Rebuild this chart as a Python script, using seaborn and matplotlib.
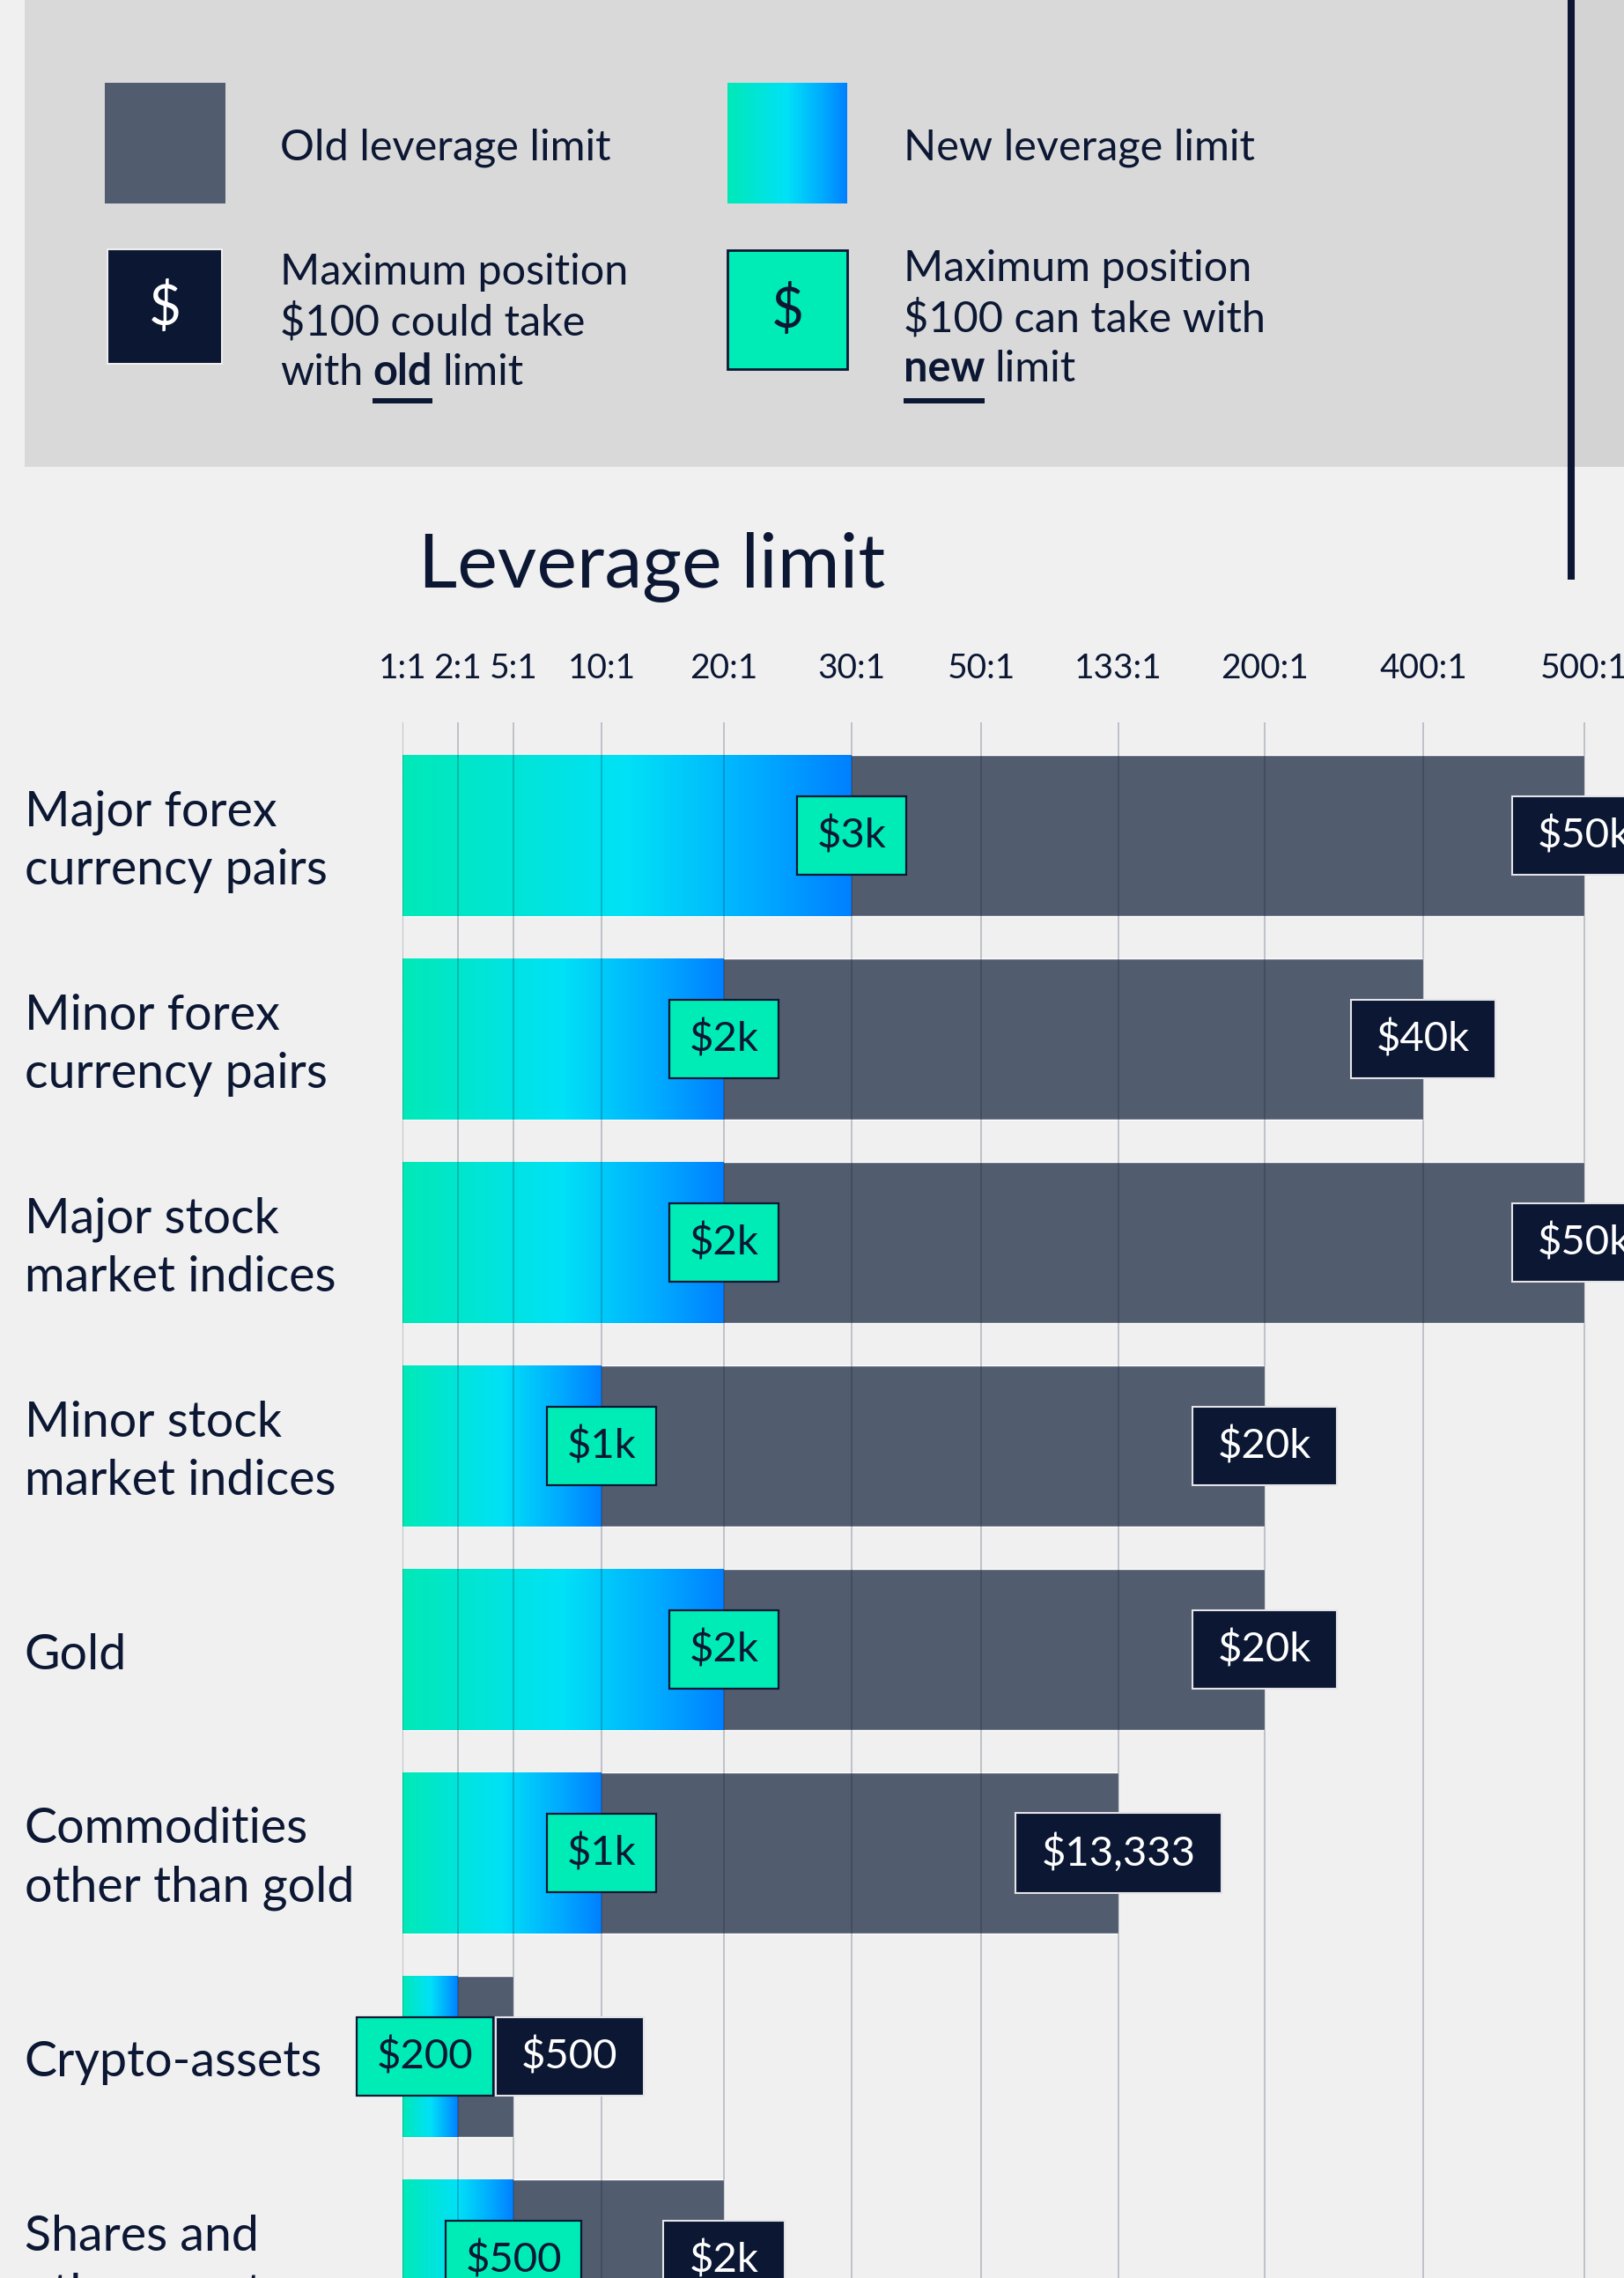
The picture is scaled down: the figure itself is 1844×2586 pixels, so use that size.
import numpy as np
import pandas as pd
import matplotlib
matplotlib.use("Agg")
import matplotlib.pyplot as plt
import matplotlib.transforms as mtransforms
import seaborn as sns
from matplotlib.colors import LinearSegmentedColormap
from matplotlib.patches import Rectangle
from matplotlib.path import Path

# ---------------- data ----------------
categories = ["Major forex\ncurrency pairs", "Minor forex\ncurrency pairs",
              "Major stock\nmarket indices", "Minor stock\nmarket indices",
              "Gold", "Commodities\nother than gold", "Crypto-assets",
              "Shares and\nother assets"]
old_limit = [500, 400, 500, 200, 200, 133, 5, 20]
new_limit = [30, 20, 20, 10, 20, 10, 2, 5]
old_position = ["$50k", "$40k", "$50k", "$20k", "$20k", "$13,333", "$500", "$2k"]
new_position = ["$3k", "$2k", "$2k", "$1k", "$2k", "$1k", "$200", "$500"]
tick_values = [1, 2, 5, 10, 20, 30, 50, 133, 200, 400, 500]
tick_labels = ["1:1", "2:1", "5:1", "10:1", "20:1", "30:1", "50:1", "133:1",
               "200:1", "400:1", "500:1"]

# ---------------- style / layout ----------------
NAVY = "#0b1733"
SLATE = "#525c6f"
TEAL = "#00ecb7"
BG = "#f0f0f0"
PANEL = "#d9d9d9"
grad_cmap = LinearSegmentedColormap.from_list(
    "lev", [(0, "#00e9b7"), (0.5, "#00e1f7"), (0.8, "#00aaff"), (1, "#0080ff")])

# uneven spacing of the leverage axis (pixels from the 1:1 line)
tick_px = [0, 63, 126, 226, 365, 510, 657, 813, 979, 1159, 1342]
ext_vals = np.array(tick_values + [5000], dtype=float)
ext_pos = np.array(tick_px + [1342 + 4500], dtype=float)

def fwd(v):
    return np.interp(v, ext_vals, ext_pos)

def inv(p):
    return np.interp(p, ext_pos, ext_vals)

def wide_box(x0, y0, width, height, mutation_size):
    px = 0.62 * mutation_size
    py = 0.48 * mutation_size
    x1, y1 = x0 + width, y0 + height
    return Path([(x0 - px, y0 - py), (x1 + px, y0 - py), (x1 + px, y1 + py),
                 (x0 - px, y1 + py), (x0 - px, y0 - py)], closed=True)

sns.set_style("white")
plt.rcParams["font.family"] = ["Lato", "DejaVu Sans"]

W, H = 1844, 2586
fig = plt.figure(figsize=(W / 100, H / 100), dpi=100)
fig.patch.set_facecolor(BG)

# background / legend layer in pixel coordinates
bg = fig.add_axes([0, 0, 1, 1], zorder=0)
bg.set_xlim(0, W)
bg.set_ylim(H, 0)
bg.axis("off")

bg.add_patch(Rectangle((28, 0), W - 28, 530, fc=PANEL, ec="none"))
bg.add_patch(Rectangle((1788, 0), W - 1788, 530, fc="#d3d3d3", ec="none"))
bg.plot([1784, 1784], [0, 658], color=NAVY, lw=5.8, solid_capstyle="butt")

# legend swatches
bg.add_patch(Rectangle((119, 94), 137, 137, fc=SLATE, ec="none"))
grad = np.linspace(0, 1, 256)[None, :]
bg.imshow(grad, cmap=grad_cmap, extent=(826, 962, 231, 94), aspect="auto",
          interpolation="bilinear", zorder=2)
LFS = 35
bg.text(318, 182, "Old leverage limit", fontsize=LFS, color=NAVY, va="baseline")
bg.text(1026, 182, "New leverage limit", fontsize=LFS, color=NAVY, va="baseline")

bg.add_patch(Rectangle((122, 283), 130, 130, fc=NAVY, ec="#eeeeee", lw=1.5, zorder=2))
bg.text(187, 350, "$", fontsize=46, color="white", ha="center", va="center", zorder=3)
bg.add_patch(Rectangle((826, 284), 136, 135, fc=TEAL, ec=NAVY, lw=2, zorder=2))
bg.text(894, 353, "$", fontsize=46, color=NAVY, ha="center", va="center", zorder=3)

bg.text(318, 323, "Maximum position", fontsize=LFS, color=NAVY, va="baseline")
bg.text(318, 381, "$100 could take", fontsize=LFS, color=NAVY, va="baseline")
t_with = bg.text(318, 437, "with", fontsize=LFS, color=NAVY, va="baseline")
t_old = bg.annotate("old", xy=(1, 0), xycoords=t_with, xytext=(8, 0),
                    textcoords="offset points", fontsize=LFS, fontweight="bold",
                    color=NAVY, ha="left", va="bottom")
bg.annotate("limit", xy=(1, 0), xycoords=t_old, xytext=(8, 0),
            textcoords="offset points", fontsize=LFS, color=NAVY,
            ha="left", va="bottom")

bg.text(1026, 319, "Maximum position", fontsize=LFS, color=NAVY, va="baseline")
bg.text(1026, 377, "$100 can take with", fontsize=LFS, color=NAVY, va="baseline")
t_new = bg.text(1026, 433, "new", fontsize=LFS, color=NAVY, va="baseline",
                fontweight="bold")
bg.annotate("limit", xy=(1, 0), xycoords=t_new, xytext=(8, 0),
            textcoords="offset points", fontsize=LFS, color=NAVY,
            ha="left", va="bottom")

# chart title
bg.text(475, 666, "Leverage limit", fontsize=62, color=NAVY, va="baseline")

# ---------------- chart ----------------
ax = fig.add_axes([457 / W, 0, (W - 457) / W, (H - 820) / H], zorder=1)
ax.patch.set_alpha(0)
ax.set_xscale("function", functions=(fwd, inv))

df = pd.DataFrame({"category": categories, "old": old_limit, "new": new_limit})
sns.barplot(data=df, x="old", y="category", color=SLATE, saturation=1,
            width=0.79, errorbar=None, orient="h", ax=ax)
n_old = len(ax.patches)
sns.barplot(data=df, x="new", y="category", color=TEAL, saturation=1,
            width=0.79, errorbar=None, orient="h", ax=ax)
old_patches = ax.patches[:n_old]
new_patches = ax.patches[n_old:]

# gradient fill of the new-limit bars (linear in screen space)
scale_tr = ax.xaxis.get_transform()
lin_tr = ax.transLimits + ax.transAxes
for p in new_patches:
    x0 = p.get_x()
    x1 = x0 + p.get_width()
    sx0, sx1 = scale_tr.transform(np.array([x0, x1], dtype=float))
    y0 = p.get_y()
    y1 = y0 + p.get_height()
    ax.imshow(grad, cmap=grad_cmap, extent=(sx0, sx1, y1, y0), transform=lin_tr,
              aspect="auto", interpolation="bilinear", zorder=1.5)
    p.set_facecolor("none")
    p.set_edgecolor("none")

# value labels
old_nudge = [0, 0, 0, 0, 0, 0, 46, 0]      # points
new_nudge = [0, 0, 0, 0, 0, 0, -27, 0]
for i, p in enumerate(old_patches):
    xe = p.get_x() + p.get_width()
    yc = p.get_y() + p.get_height() / 2
    ax.annotate(old_position[i], xy=(xe, yc), xytext=(old_nudge[i], 0),
                textcoords="offset points", ha="center", va="center",
                fontsize=34, color="white", zorder=6, annotation_clip=False,
                bbox=dict(boxstyle=wide_box, fc=NAVY, ec="#e4e4e8", lw=1.5))
for i, p in enumerate(new_patches):
    xe = p.get_x() + p.get_width()
    yc = p.get_y() + p.get_height() / 2
    ax.annotate(new_position[i], xy=(xe, yc), xytext=(new_nudge[i], 0),
                textcoords="offset points", ha="center", va="center",
                fontsize=34, color=NAVY, zorder=7, annotation_clip=False,
                bbox=dict(boxstyle="square,pad=0.48", fc=TEAL, ec=NAVY, lw=1.6))

# axes decoration
ax.set_xlabel("")
ax.set_ylabel("")
ax.set_xticks(tick_values, tick_labels)
ax.xaxis.tick_top()
ax.tick_params(axis="x", length=0, pad=31, labelsize=28, labelcolor=NAVY)
ax.set_yticks(range(len(categories)), categories, ha="left", va="center",
              linespacing=1.38)
ax.tick_params(axis="y", length=0, pad=309, labelsize=40, labelcolor=NAVY)
shift_down = mtransforms.ScaledTranslation(0, -5 / 72, fig.dpi_scale_trans)
for lab in ax.get_yticklabels():
    lab.set_transform(lab.get_transform() + shift_down)
ax.grid(axis="x", color=NAVY, alpha=0.21, lw=1.45)
ax.grid(axis="y", visible=False)
ax.set_axisbelow(False)
for s in ax.spines.values():
    s.set_visible(False)
ax.set_xlim(1, inv(W - 457))
ax.set_ylim((H - 948.5) / 231, (820 - 948.5) / 231)
bg.set_xlim(0, W)
bg.set_ylim(H, 0)

# underline the bold words
fig.canvas.draw()
for t, y in [(t_old, 452), (t_new, 452)]:
    bb = t.get_window_extent()
    (xa, _), (xb, _) = bg.transData.inverted().transform([[bb.x0, bb.y0], [bb.x1, bb.y1]])
    bg.add_patch(Rectangle((xa, y), xb - xa, 6, fc=NAVY, ec="none"))

fig.savefig("out.png", dpi=100, facecolor=fig.get_facecolor())
